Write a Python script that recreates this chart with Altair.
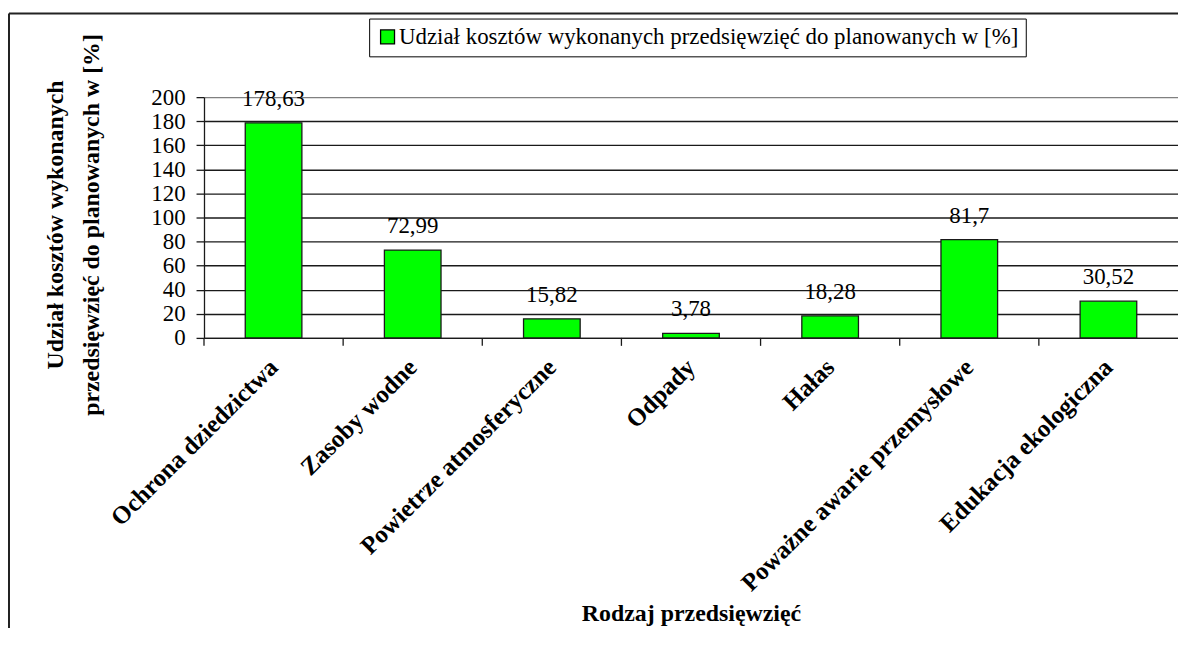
import altair as alt
import pandas as pd

categories = ["Ochrona dziedzictwa", "Zasoby wodne", "Powietrze atmosferyczne", "Odpady",
              "Hałas", "Poważne awarie przemysłowe", "Edukacja ekologiczna"]
values = [178.63, 72.99, 15.82, 3.78, 18.28, 81.7, 30.52]
labels = [str(v).replace(".", ",") for v in values]
y_ticks = list(range(0, 201, 20))
series_name = "Udział kosztów wykonanych przedsięwzięć do planowanych w [%]"
x_title = "Rodzaj przedsięwzięć"
y_title = ["Udział kosztów wykonanych", "przedsięwzięć do planowanych w [%]"]

df = pd.DataFrame({"cat": categories, "val": values, "label": labels, "series": series_name})
one = pd.DataFrame({"k": [0]})

FONT = "Liberation Serif"
W, H = 979, 242

xscale = alt.Scale(paddingInner=0, paddingOuter=0)

x_axis = alt.Axis(labelAngle=315, labelAlign="right", labelBaseline="middle",
                  labelFontSize=25, labelFontWeight="bold", labelColor="black",
                  labelFont=FONT,
                  labelPadding=25, ticks=False, labelLimit=1000, labelOverlap=False,
                  domainColor="#1a1a1a", domainWidth=1.3, grid=False,
                  titleFontSize=24, titleFontWeight="bold", titleColor="black",
                  titleFont=FONT,
                  titleX=W / 2, titleY=284, titleBaseline="alphabetic", titleAlign="center")

y_axis = alt.Axis(values=y_ticks, labelFontSize=23, labelColor="black", labelPadding=11,
                  labelFont=FONT, labelOverlap=False, labelFlush=False,
                  tickSize=8, tickColor="#1a1a1a", tickWidth=1.3,
                  domainColor="#1a1a1a", domainWidth=1.3,
                  grid=True, gridWidth=1.4,
                  gridColor={"condition": {"test": "datum.value === 200", "value": "#808080"},
                             "value": "#1a1a1a"},
                  titleFontSize=24, titleFontWeight="bold", titleColor="black",
                  titleFont=FONT,
                  titleAngle=270, titleX=-142, titleY=128, titleBaseline="alphabetic",
                  titleAlign="center", titleLineHeight=36)

X = alt.X("cat:N", sort=categories, scale=xscale, title=x_title, axis=x_axis)
Y = alt.Y("val:Q", scale=alt.Scale(domain=[0, 200], nice=False), title=y_title, axis=y_axis)

bars = alt.Chart(df).mark_bar(width={"band": 0.407}, stroke="#1a1a1a", strokeWidth=1.3).encode(
    x=X,
    y=Y,
    color=alt.Color("series:N", scale=alt.Scale(range=["#00ff00"]),
                    legend=alt.Legend(title=None, orient="none", legendX=166, legendY=-79,
                                      padding=7, strokeColor="black", fillColor="white",
                                      labelFontSize=23, labelLimit=1000, labelColor="black",
                                      labelFont=FONT,
                                      symbolType="square", symbolSize=196,
                                      symbolStrokeColor="black", symbolStrokeWidth=1.3,
                                      labelOffset=0)),
)

text = alt.Chart(df).mark_text(baseline="alphabetic", dy=-17, fontSize=23, font=FONT, color="black").encode(
    x=X,
    y=Y,
    text="label:N",
)

ticks = alt.Chart(df).mark_rule(color="#1a1a1a", strokeWidth=1.3).encode(
    x=alt.X("cat:N", sort=categories, scale=xscale, title=x_title, axis=x_axis, bandPosition=0),
    y=alt.value(H),
    y2=alt.value(H + 8),
)

frame_top = alt.Chart(one).mark_rule(color="#222222", strokeWidth=2).encode(
    x=alt.value(-196), x2=alt.value(W + 10), y=alt.value(-84)
)
frame_left = alt.Chart(one).mark_rule(color="#222222", strokeWidth=2).encode(
    x=alt.value(-196), y=alt.value(-84), y2=alt.value(H + 300)
)

chart = alt.layer(bars, text, ticks, frame_top, frame_left).properties(
    width=W, height=H,
    autosize=alt.AutoSizeParams(type="none"),
    padding={"left": 197, "top": 88, "right": 0, "bottom": 290},
).configure(font=FONT).configure_view(strokeWidth=0)

chart.save("out.html", embed_options={"renderer": "svg", "actions": False})
